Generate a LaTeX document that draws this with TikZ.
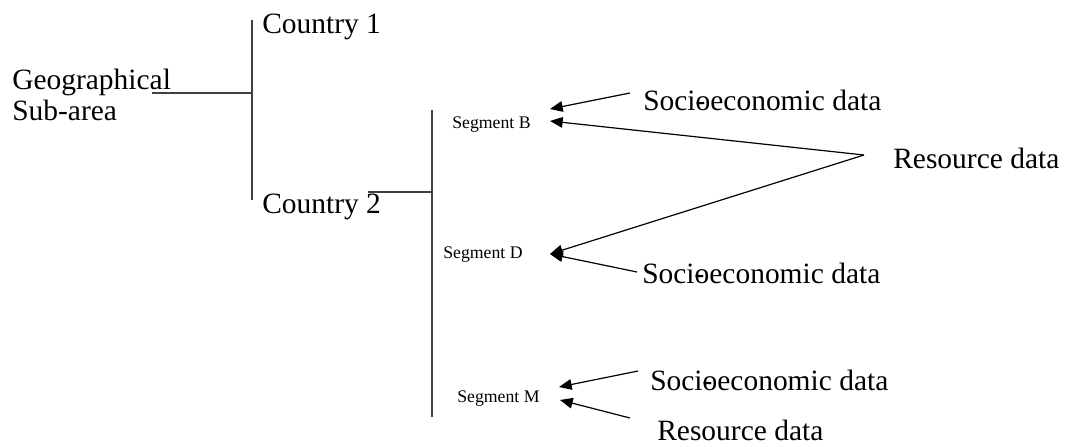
\documentclass[tikz,border=0pt]{standalone}
\usepackage{fontspec}
\setmainfont{Liberation Serif}
\usetikzlibrary{arrows.meta}
\newcommand{\socio}{Soci\makebox[0.5em][l]{o\kern-0.5em-}economic data}
\begin{document}
\begin{tikzpicture}[x=0.75pt,y=-0.75pt,
  big/.style={inner sep=0pt,anchor=base west,font=\fontsize{22.1}{20.25}\selectfont},
  small/.style={inner sep=0pt,anchor=base west,font=\fontsize{13.3}{16}\selectfont},
  bar/.style={draw=black!75,line width=0.8pt},
  arr/.style={draw=black,line width=0.9pt,-{Triangle[length=9.5pt,width=8pt]}}]
\useasboundingbox (0,0) rectangle (1066,446);
% texts
\node[big,align=left] (geo) at (12,120) {Geographical\\[3pt]Sub-area};
\node[big] (c1) at (262,33) {Country 1};
\node[big] (c2) at (262,213) {Country 2};
\node[small] (sb) at (452,128) {Segment B};
\node[small] (sd) at (443,258) {Segment D};
\node[small] (sm) at (457,402) {Segment M};
\node[big] (s1) at (643,110) {\socio};
\node[big] (r1) at (893,168) {Resource data};
\node[big] (s2) at (642,283) {\socio};
\node[big] (s3) at (650,390) {\socio};
\node[big] (r2) at (657,440) {Resource data};
% tree junctions
\coordinate (g0) at (152,93);
\coordinate (g1) at (252,93);
\coordinate (t1) at (252,20);
\coordinate (b1) at (252,200);
\coordinate (h0) at (368,192);
\coordinate (h1) at (432,192);
\coordinate (t2) at (432,110);
\coordinate (b2) at (432,417);
\draw[bar] (g0) -- (g1);
\draw[bar] (t1) -- (b1);
\draw[bar] (h0) -- (h1);
\draw[bar] (t2) -- (b2);
% arrow ends
\coordinate (apex) at (864,155);
\coordinate (s1e) at (630,93);
\coordinate (s2e) at (637,272);
\coordinate (s3e) at (638,371);
\coordinate (r2e) at (630,418);
\coordinate (tb1) at (550,109);
\coordinate (tb2) at (550,121);
\coordinate (td) at (550,254);
\coordinate (tm1) at (559,387);
\coordinate (tm2) at (560,400);
\draw[arr] (s1e) -- (tb1);
\draw[arr] (apex) -- (tb2);
\draw[arr] (apex) -- (td);
\draw[arr] (s2e) -- (td);
\draw[arr] (s3e) -- (tm1);
\draw[arr] (r2e) -- (tm2);
\end{tikzpicture}
\end{document}
